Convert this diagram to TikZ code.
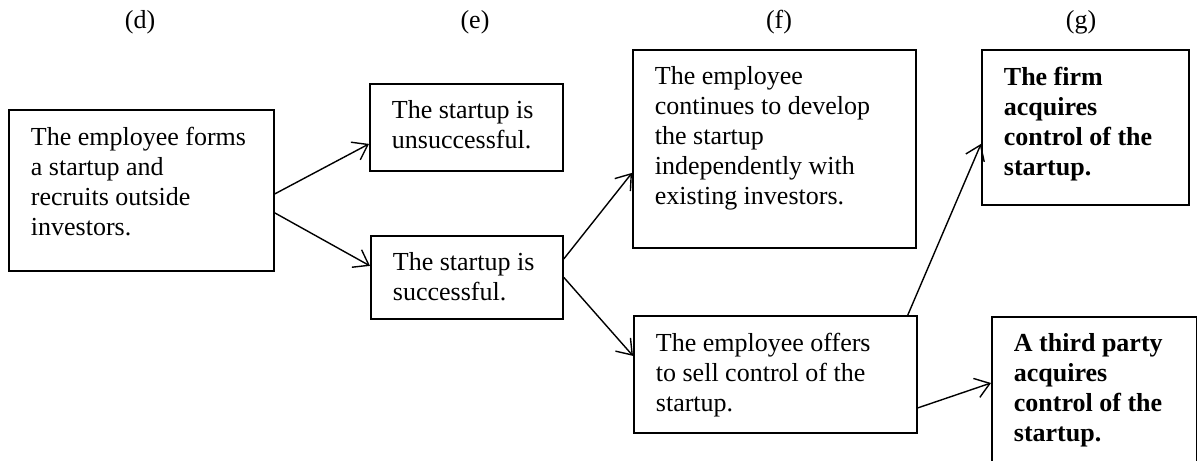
\documentclass[tikz,border=0pt]{standalone}
\usepackage{fontspec}
\setmainfont{Liberation Serif}
\usetikzlibrary{arrows.meta, positioning, calc}

% box text: width, height, lines (top aligned, left indented)
\newcommand{\stagetext}[3]{%
  \begin{minipage}[t][#2][t]{#1}%
    \raggedright\leftskip=11pt\relax
    \vspace*{8.5pt}#3%
  \end{minipage}}

\tikzset{
  stage/.style={draw, line width=0.9pt, anchor=north west, inner sep=0pt,
                font=\fontsize{13}{15}\selectfont},
  outcome/.style={stage, font=\fontsize{13}{15}\selectfont\bfseries},
  column/.style={font=\fontsize{13}{15}\selectfont},
  branch/.style={-{Straight Barb[length=7pt, width=10pt]}, line width=0.7pt}
}

\begin{document}
\begin{tikzpicture}[x=0.5pt, y=-0.5pt]
  \useasboundingbox (0,0) rectangle (1197,460);
  \clip (0,0) rectangle (1197,460);

  \node[column] (cd) at (140,22) {(d)};
  \node[column] (ce) at (475,22) {(e)};
  \node[column] (cf) at (779,22) {(f)};
  \node[column] (cg) at (1081,22) {(g)};

  \node[stage] (d) at (8,109) {\stagetext{132.5pt}{80.5pt}{The employee forms\\
    a startup and\\ recruits outside\\ investors.}};
  \node[stage] (e1) at (369,83) {\stagetext{96.5pt}{43.5pt}{The startup is\\
    unsuccessful.}};
  \node[stage] (e2) at (370,235) {\stagetext{96pt}{41.5pt}{The startup is\\
    successful.}};
  \node[stage] (f1) at (632,49) {\stagetext{141.5pt}{99pt}{The employee\\
    continues to develop\\ the startup\\ independently with\\ existing investors.}};
  \node[stage] (f2) at (633,315) {\stagetext{141.5pt}{58.5pt}{The employee offers\\
    to sell control of the\\ startup.}};
  \node[outcome] (g1) at (981,49) {\stagetext{103.5pt}{77.5pt}{The firm\\
    acquires\\ control of the\\ startup.}};
  \node[outcome] (g2) at (991,316) {\stagetext{102.5pt}{77pt}{A third party\\
    acquires\\ control of the\\ startup.}};

  \draw[branch] ([yshift=-1.75pt]d.east) -- ([yshift=-8.25pt]e1.west);
  \draw[branch] ([yshift=-11.25pt]d.east) -- ([yshift=5.75pt]e2.west);
  \draw[branch] ([yshift=9.25pt]e2.east) -- ([yshift=-12pt]f1.west);
  \draw[branch] (e2.east) -- ([yshift=9.25pt]f2.west);
  \draw[branch] ([xshift=-5pt]f2.north east) -- ([yshift=-8.25pt]g1.west);
  \draw[branch] ([yshift=-16.75pt]f2.east) -- ([yshift=-33.5pt]g2.north west);
\end{tikzpicture}
\end{document}
